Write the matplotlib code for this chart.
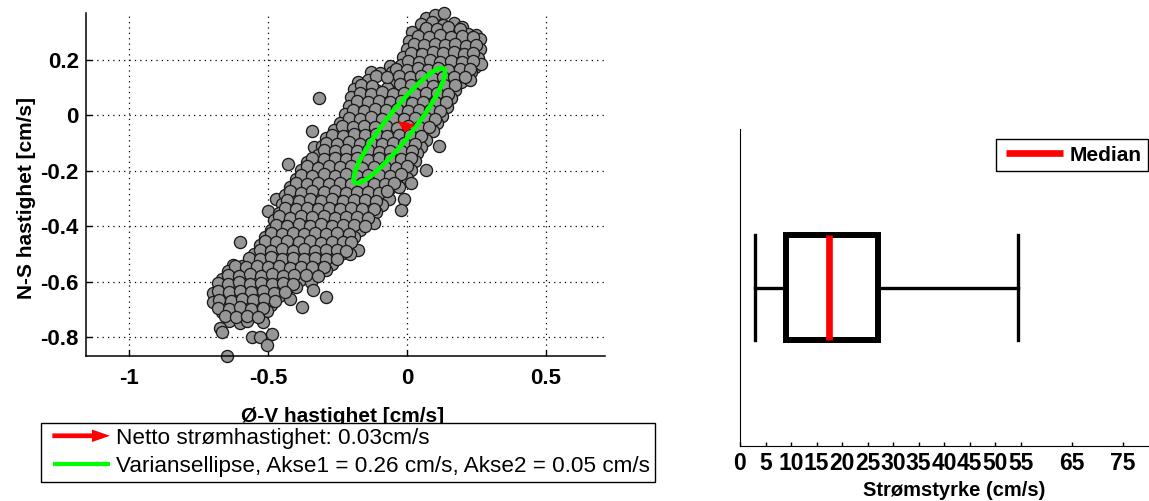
import matplotlib
matplotlib.use("Agg")
import matplotlib.pyplot as plt
from matplotlib.patches import Ellipse, FancyArrow
from matplotlib.lines import Line2D
from matplotlib.legend_handler import HandlerBase

plt.rcParams['font.family'] = 'Liberation Sans'
plt.rcParams['axes.unicode_minus'] = False

# East-west (u) and north-south (v) velocity samples [cm/s]
u_vel = [
    0.07, 0.10, 0.134,
    0.05, 0.09, 0.13, 0.17, 0.20,
    0.02, 0.058, 0.10, 0.138, 0.18, 0.22, 0.248,
    0.008, 0.045, 0.082, 0.12, 0.158, 0.198, 0.235, 0.265,
    0.0, 0.04, 0.075, 0.112, 0.15, 0.19, 0.226, 0.262,
    -0.012, 0.028, 0.065, 0.102, 0.14, 0.18, 0.22, 0.258,
    -0.06, -0.022, 0.018, 0.055, 0.092, 0.13, 0.17, 0.208, 0.245, 0.268,
    -0.13, -0.095, -0.052, -0.012, 0.028, 0.068, 0.108, 0.148, 0.19, 0.23,
    -0.176, -0.14, -0.045, -0.006, 0.034, 0.074, 0.114, 0.155, 0.195, 0.228,
    -0.19, -0.15, -0.11, -0.07, -0.03, 0.01, 0.05, 0.09, 0.13, 0.172,
    -0.318, -0.2, -0.16, -0.12, -0.08, -0.04, 0.0, 0.04, 0.08, 0.12, 0.16,
    -0.21, -0.17, -0.13, -0.09, -0.05, -0.01, 0.03, 0.07, 0.11, 0.145,
    -0.222, -0.182, -0.142, -0.102, -0.062, -0.022, 0.018, 0.058, 0.098, 0.125,
    -0.24, -0.2, -0.16, -0.12, -0.08, -0.04, 0.0, 0.04, 0.08, 0.11,
    -0.34, -0.262, -0.222, -0.182, -0.142, -0.102, -0.062, -0.022, 0.018, 0.058, 0.094,
    -0.29, -0.25, -0.21, -0.17, -0.13, -0.09, -0.05, -0.01, 0.03, 0.07,
    -0.336, -0.305, -0.268, -0.228, -0.188, -0.148, -0.108, -0.068, -0.028, 0.012, 0.05, 0.115,
    -0.32, -0.28, -0.24, -0.2, -0.16, -0.12, -0.08, -0.04, 0.0, 0.038,
    -0.427, -0.36, -0.32, -0.28, -0.24, -0.2, -0.16, -0.12, -0.08, -0.04, 0.0, 0.03,
    -0.38, -0.34, -0.3, -0.26, -0.22, -0.18, -0.14, -0.1, -0.06, -0.02, 0.015, 0.07,
    -0.4, -0.36, -0.32, -0.28, -0.24, -0.2, -0.16, -0.12, -0.08, -0.04, 0.0, 0.015,
    -0.42, -0.38, -0.34, -0.3, -0.26, -0.22, -0.18, -0.14, -0.1, -0.06, -0.03,
    -0.47, -0.44, -0.4, -0.36, -0.32, -0.28, -0.24, -0.2, -0.16, -0.12, -0.065, -0.01,
    -0.45, -0.41, -0.37, -0.33, -0.29, -0.25, -0.21, -0.17, -0.13, -0.09,
    -0.5, -0.02,
    -0.46, -0.42, -0.38, -0.34, -0.3, -0.26, -0.22, -0.18, -0.14, -0.11,
    -0.48, -0.44, -0.4, -0.36, -0.32, -0.28, -0.24, -0.2, -0.16, -0.12,
    -0.49, -0.45, -0.41, -0.37, -0.33, -0.29, -0.25, -0.21, -0.17,
    -0.51, -0.47, -0.43, -0.39, -0.35, -0.31, -0.27, -0.23, -0.19,
    -0.6,
    -0.53, -0.49, -0.45, -0.41, -0.37, -0.33, -0.29, -0.25, -0.21, -0.176,
    -0.55, -0.51, -0.47, -0.43, -0.39, -0.35, -0.31, -0.27, -0.23, -0.206,
    -0.625, -0.594, -0.55, -0.51, -0.47, -0.43, -0.39, -0.35, -0.31, -0.27,
    -0.645, -0.6, -0.56, -0.52, -0.48, -0.44, -0.4, -0.36, -0.32, -0.29,
    -0.665, -0.625, -0.585, -0.545, -0.505, -0.465, -0.425, -0.385, -0.345,
    -0.698, -0.67, -0.63, -0.59, -0.55, -0.51, -0.47, -0.43, -0.4, -0.337,
    -0.698, -0.66, -0.62, -0.58, -0.54, -0.5, -0.46, -0.42, -0.293,
    -0.65, -0.61, -0.57, -0.53, -0.49, -0.376,
    -0.665, -0.625, -0.585, -0.545, -0.505,
    -0.64, -0.6, -0.575, -0.517,
    -0.672, -0.665, -0.557, -0.528, -0.487, -0.505, -0.648,
    # samples lying between the rows above
    0.07, 0.11, 0.15, 0.19,
    0.04, 0.08, 0.12, 0.16, 0.2, 0.24,
    0.025, 0.063, 0.1, 0.138, 0.175, 0.212, 0.248,
    0.015, 0.055, 0.093, 0.13, 0.17, 0.205, 0.24,
    0.005, 0.045, 0.083, 0.12, 0.16, 0.2, 0.238,
    -0.04, 0.0, 0.04, 0.075, 0.112, 0.15, 0.19, 0.228,
    -0.11, -0.07, -0.03, 0.01, 0.05, 0.09, 0.13, 0.17, 0.21,
    -0.165, -0.125, -0.025, 0.015, 0.055, 0.095, 0.135, 0.175,
    -0.17, -0.13, -0.09, -0.05, -0.01, 0.03, 0.07, 0.11, 0.15,
    -0.18, -0.14, -0.1, -0.06, -0.02, 0.02, 0.06, 0.1, 0.14,
    -0.195, -0.155, -0.115, -0.075, -0.035, 0.005, 0.045, 0.085, 0.12,
    -0.21, -0.17, -0.13, -0.09, -0.05, -0.01, 0.03, 0.07, 0.1,
    -0.235, -0.195, -0.155, -0.115, -0.075, -0.035, 0.005, 0.045, 0.08,
    -0.27, -0.23, -0.19, -0.15, -0.11, -0.07, -0.03, 0.01, 0.05,
    -0.29, -0.25, -0.21, -0.17, -0.13, -0.09, -0.05, -0.01, 0.03,
    -0.3, -0.26, -0.22, -0.18, -0.14, -0.1, -0.06, -0.02, 0.02,
    -0.34, -0.3, -0.26, -0.22, -0.18, -0.14, -0.1, -0.06, -0.02, 0.015,
    -0.36, -0.32, -0.28, -0.24, -0.2, -0.16, -0.12, -0.08, -0.04, 0.0,
    -0.38, -0.34, -0.3, -0.26, -0.22, -0.18, -0.14, -0.1, -0.06, -0.02,
    -0.4, -0.36, -0.32, -0.28, -0.24, -0.2, -0.16, -0.12, -0.08, -0.045,
    -0.42, -0.38, -0.34, -0.3, -0.26, -0.22, -0.18, -0.14, -0.1, -0.07,
    -0.43, -0.39, -0.35, -0.31, -0.27, -0.23, -0.19, -0.15, -0.11,
    -0.44, -0.4, -0.36, -0.32, -0.28, -0.24, -0.2, -0.16, -0.12,
    -0.46, -0.42, -0.38, -0.34, -0.3, -0.26, -0.22, -0.18, -0.14,
    -0.47, -0.43, -0.39, -0.35, -0.31, -0.27, -0.23, -0.19, -0.15,
    -0.49, -0.45, -0.41, -0.37, -0.33, -0.29, -0.25, -0.21,
    -0.51, -0.47, -0.43, -0.39, -0.35, -0.31, -0.27, -0.23, -0.2,
    -0.53, -0.49, -0.45, -0.41, -0.37, -0.33, -0.29, -0.25, -0.22,
    -0.57, -0.53, -0.49, -0.45, -0.41, -0.37, -0.33, -0.29, -0.25,
    -0.62, -0.58, -0.54, -0.5, -0.46, -0.42, -0.38, -0.34, -0.3,
    -0.645, -0.605, -0.565, -0.525, -0.485, -0.445, -0.405, -0.365, -0.32,
    -0.68, -0.645, -0.605, -0.565, -0.525, -0.485, -0.445, -0.41,
    -0.68, -0.64, -0.6, -0.56, -0.52, -0.48, -0.44,
    -0.675, -0.635, -0.595, -0.555, -0.515, -0.475,
    -0.68, -0.64, -0.6, -0.56, -0.52,
    -0.655, -0.615, -0.575, -0.535,
]
v_vel = [
    0.35, 0.362, 0.37,
    0.328, 0.335, 0.325, 0.332, 0.318,
    0.302, 0.296, 0.305, 0.298, 0.301, 0.294, 0.289,
    0.268, 0.274, 0.265, 0.272, 0.266, 0.27, 0.262, 0.275,
    0.238, 0.242, 0.236, 0.245, 0.239, 0.235, 0.243, 0.24,
    0.21, 0.206, 0.214, 0.208, 0.212, 0.205, 0.211, 0.207,
    0.178, 0.183, 0.176, 0.181, 0.178, 0.184, 0.177, 0.18, 0.175, 0.185,
    0.158, 0.152, 0.156, 0.15, 0.155, 0.151, 0.157, 0.153, 0.149, 0.156,
    0.122, 0.128, 0.124, 0.12, 0.127, 0.121, 0.126, 0.123, 0.12, 0.128,
    0.094, 0.098, 0.092, 0.099, 0.093, 0.097, 0.091, 0.096, 0.094, 0.09,
    0.062, 0.066, 0.061, 0.067, 0.063, 0.068, 0.062, 0.065, 0.06, 0.066, 0.061,
    0.033, 0.038, 0.031, 0.036, 0.032, 0.037, 0.034, 0.03, 0.036, 0.032,
    0.004, 0.008, 0.002, 0.007, 0.0, 0.006, 0.003, 0.008, 0.001, -0.004,
    -0.027, -0.022, -0.028, -0.021, -0.026, -0.023, -0.029, -0.024, -0.02, -0.026,
    -0.057, -0.054, -0.058, -0.052, -0.056, -0.051, -0.057, -0.053, -0.059, -0.052, -0.056,
    -0.083, -0.088, -0.082, -0.087, -0.084, -0.089, -0.083, -0.086, -0.081, -0.088,
    -0.115, -0.112, -0.116, -0.11, -0.114, -0.111, -0.117, -0.112, -0.115, -0.11, -0.113, -0.11,
    -0.142, -0.138, -0.143, -0.137, -0.141, -0.136, -0.142, -0.139, -0.144, -0.137,
    -0.176, -0.168, -0.173, -0.167, -0.172, -0.166, -0.171, -0.168, -0.174, -0.167, -0.17, -0.165,
    -0.198, -0.203, -0.197, -0.202, -0.196, -0.201, -0.199, -0.204, -0.197, -0.202, -0.198, -0.196,
    -0.228, -0.232, -0.226, -0.231, -0.227, -0.233, -0.229, -0.234, -0.228, -0.232, -0.227, -0.242,
    -0.258, -0.263, -0.257, -0.262, -0.256, -0.261, -0.259, -0.264, -0.257, -0.262, -0.258,
    -0.3, -0.288, -0.293, -0.287, -0.292, -0.286, -0.291, -0.288, -0.294, -0.289, -0.3, -0.302,
    -0.318, -0.323, -0.317, -0.322, -0.316, -0.321, -0.319, -0.324, -0.317, -0.322,
    -0.345, -0.34,
    -0.352, -0.348, -0.353, -0.347, -0.351, -0.346, -0.352, -0.348, -0.354, -0.349,
    -0.378, -0.383, -0.377, -0.382, -0.376, -0.381, -0.379, -0.384, -0.377, -0.386,
    -0.412, -0.407, -0.413, -0.408, -0.411, -0.406, -0.412, -0.409, -0.414,
    -0.438, -0.443, -0.437, -0.442, -0.436, -0.441, -0.439, -0.444, -0.437,
    -0.457,
    -0.468, -0.473, -0.467, -0.472, -0.466, -0.471, -0.469, -0.474, -0.467, -0.486,
    -0.498, -0.503, -0.497, -0.502, -0.496, -0.501, -0.499, -0.504, -0.497, -0.5,
    -0.54, -0.543, -0.528, -0.533, -0.527, -0.532, -0.526, -0.531, -0.529, -0.534,
    -0.562, -0.557, -0.563, -0.558, -0.561, -0.556, -0.562, -0.559, -0.564, -0.557,
    -0.588, -0.593, -0.587, -0.592, -0.586, -0.591, -0.589, -0.594, -0.6,
    -0.641, -0.62, -0.618, -0.623, -0.617, -0.622, -0.616, -0.621, -0.619, -0.628,
    -0.673, -0.648, -0.653, -0.647, -0.652, -0.646, -0.651, -0.66, -0.655,
    -0.682, -0.677, -0.683, -0.678, -0.684, -0.69,
    -0.708, -0.713, -0.707, -0.712, -0.706,
    -0.742, -0.748, -0.74, -0.745,
    -0.767, -0.78, -0.8, -0.8, -0.786, -0.828, -0.867,
    # samples lying between the rows above
    0.316, 0.312, 0.317, 0.311,
    0.286, 0.282, 0.288, 0.283, 0.287, 0.281,
    0.256, 0.252, 0.258, 0.253, 0.257, 0.251, 0.255,
    0.226, 0.222, 0.228, 0.223, 0.227, 0.221, 0.225,
    0.196, 0.192, 0.198, 0.193, 0.197, 0.191, 0.195,
    0.168, 0.164, 0.17, 0.165, 0.169, 0.163, 0.167, 0.166,
    0.141, 0.137, 0.143, 0.138, 0.142, 0.136, 0.14, 0.139, 0.137,
    0.111, 0.107, 0.113, 0.108, 0.112, 0.106, 0.11, 0.109,
    0.081, 0.077, 0.083, 0.078, 0.082, 0.076, 0.08, 0.079, 0.077,
    0.051, 0.047, 0.053, 0.048, 0.052, 0.046, 0.05, 0.049, 0.047,
    0.021, 0.017, 0.023, 0.018, 0.022, 0.016, 0.02, 0.019, 0.017,
    -0.009, -0.013, -0.007, -0.012, -0.008, -0.014, -0.01, -0.011, -0.013,
    -0.039, -0.043, -0.037, -0.042, -0.038, -0.044, -0.04, -0.041, -0.043,
    -0.069, -0.073, -0.067, -0.072, -0.068, -0.074, -0.07, -0.071, -0.073,
    -0.099, -0.103, -0.097, -0.102, -0.098, -0.104, -0.1, -0.101, -0.103,
    -0.126, -0.13, -0.124, -0.129, -0.125, -0.131, -0.127, -0.128, -0.13,
    -0.154, -0.158, -0.152, -0.157, -0.153, -0.159, -0.155, -0.156, -0.158, -0.152,
    -0.184, -0.188, -0.182, -0.187, -0.183, -0.189, -0.185, -0.186, -0.188, -0.182,
    -0.214, -0.218, -0.212, -0.217, -0.213, -0.219, -0.215, -0.216, -0.218, -0.212,
    -0.244, -0.248, -0.242, -0.247, -0.243, -0.249, -0.245, -0.246, -0.248, -0.242,
    -0.274, -0.278, -0.272, -0.277, -0.273, -0.279, -0.275, -0.276, -0.278, -0.272,
    -0.304, -0.308, -0.302, -0.307, -0.303, -0.309, -0.305, -0.306, -0.308,
    -0.334, -0.338, -0.332, -0.337, -0.333, -0.339, -0.335, -0.336, -0.338,
    -0.364, -0.368, -0.362, -0.367, -0.363, -0.369, -0.365, -0.366, -0.368,
    -0.394, -0.398, -0.392, -0.397, -0.393, -0.399, -0.395, -0.396, -0.398,
    -0.424, -0.428, -0.422, -0.427, -0.423, -0.429, -0.425, -0.426,
    -0.454, -0.458, -0.452, -0.457, -0.453, -0.459, -0.455, -0.456, -0.458,
    -0.484, -0.488, -0.482, -0.487, -0.483, -0.489, -0.485, -0.486, -0.488,
    -0.514, -0.518, -0.512, -0.517, -0.513, -0.519, -0.515, -0.516, -0.518,
    -0.544, -0.548, -0.542, -0.547, -0.543, -0.549, -0.545, -0.546, -0.548,
    -0.574, -0.578, -0.572, -0.577, -0.573, -0.579, -0.575, -0.576, -0.578,
    -0.604, -0.608, -0.602, -0.607, -0.603, -0.609, -0.605, -0.606,
    -0.634, -0.638, -0.632, -0.637, -0.633, -0.639, -0.635,
    -0.664, -0.668, -0.662, -0.667, -0.663, -0.669,
    -0.694, -0.698, -0.692, -0.697, -0.693,
    -0.724, -0.728, -0.722, -0.727,
]
assert len(u_vel) == len(v_vel)

# Net current and variance ellipse
net_speed = 0.03
arrow_start = (-0.001, -0.028)
net_u, net_v = -0.005, -0.0296
ell_center = (-0.027, -0.037)
akse1, akse2 = 0.26, 0.05
ell_angle = 52

# Current strength distribution [cm/s]
whisk_lo, q1, median, q3, whisk_hi = 3.0, 9.0, 17.5, 27.0, 54.5
speed_ticks = [0, 5, 10, 15, 20, 25, 30, 35, 40, 45, 50, 55, 65, 75]

xticks_uv = [-1, -0.5, 0, 0.5]
yticks_uv = [-0.8, -0.6, -0.4, -0.2, 0, 0.2]


class OffsetHandle(HandlerBase):
    """Legend handle drawn as a line or arrow of fixed length, right-aligned."""

    def __init__(self, length, arrow=False):
        super().__init__()
        self.length = length
        self.arrow = arrow

    def create_artists(self, legend, orig_handle, xdescent, ydescent,
                       width, height, fontsize, trans):
        x1 = width - xdescent
        x0 = x1 - self.length
        y = height / 2 - ydescent
        if self.arrow:
            art = FancyArrow(x0, y, self.length, 0, width=3.4, head_width=9,
                             head_length=13, length_includes_head=True,
                             color=orig_handle.get_color(), lw=0,
                             transform=trans)
        else:
            art = Line2D([x0, x1], [y, y], color=orig_handle.get_color(),
                         lw=orig_handle.get_linewidth(),
                         solid_capstyle='butt', transform=trans)
        return [art]


W, H = 1149, 501
fig = plt.figure(figsize=(W / 100, H / 100), dpi=100)

# --- velocity scatter -------------------------------------------------------
ax = fig.add_axes([85.7 / W, 1 - 356 / H, 519.3 / W, 343.3 / H])
ax.scatter(u_vel, v_vel, s=76, c='#969696', edgecolors='#1a1a1a',
           linewidths=0.95, zorder=2, clip_on=False)
ax.add_patch(Ellipse(ell_center, 2 * akse1, 2 * akse2, angle=ell_angle,
                     fill=False, edgecolor='#00ff00', lw=3.4, zorder=3))
ax.add_patch(FancyArrow(arrow_start[0], arrow_start[1], net_u, net_v,
                        width=0.014, head_width=0.055, head_length=0.03,
                        overhang=0.15, length_includes_head=True,
                        facecolor='red', edgecolor='red', lw=1.2, zorder=4))

ax.set_xlim(-1.157, 0.714)
ax.set_ylim(-0.867, 0.370)
ax.set_xticks(xticks_uv)
ax.set_xticklabels([f'{t:g}' for t in xticks_uv])
ax.set_yticks(yticks_uv)
ax.set_yticklabels([f'{t:g}' for t in yticks_uv])
ax.tick_params(direction='in', length=4, width=1, pad=5, labelsize=16)
ax.tick_params(axis='x', pad=8.5)
for lab in ax.get_xticklabels() + ax.get_yticklabels():
    lab.set_fontweight('bold')
ax.spines['top'].set_visible(False)
ax.spines['right'].set_visible(False)
for sp in ('left', 'bottom'):
    ax.spines[sp].set_linewidth(1.1)
ax.grid(True, color='black', linestyle=(0, (1, 3.3)), lw=0.9)
ax.set_axisbelow(True)
ax.set_xlabel('Ø-V hastighet [cm/s]', fontsize=15, fontweight='bold')
ax.set_ylabel('N-S hastighet [cm/s]', fontsize=15, fontweight='bold')
ax.xaxis.set_label_coords(0.494, -0.149)
ax.yaxis.set_label_coords(-0.095, 0.46)

h_arrow = Line2D([], [], color='red')
h_ell = Line2D([], [], color='#00ff00', lw=3)
leg = fig.legend(
    handles=[h_arrow, h_ell],
    labels=[f'Netto strømhastighet: {net_speed:.2f}cm/s',
            f'Variansellipse, Akse1 = {akse1:.2f} cm/s, '
            f'Akse2 = {akse2:.2f} cm/s'],
    handler_map={h_arrow: OffsetHandle(41.5, arrow=True),
                 h_ell: OffsetHandle(41.0)},
    loc='upper left', bbox_to_anchor=(40.7 / W, 1 - 422.7 / H),
    bbox_transform=fig.transFigure, borderaxespad=0, borderpad=0.22,
    handlelength=2.86, handletextpad=0.26, labelspacing=0.33, fontsize=16.2,
    fancybox=False, edgecolor='black', framealpha=1)
leg.get_frame().set_linewidth(1.0)

# --- current strength box plot ----------------------------------------------
ax2 = fig.add_axes([740 / W, 1 - 446 / H, 408 / W, 316.7 / H])
stats = [dict(whislo=whisk_lo, q1=q1, med=median, q3=q3, whishi=whisk_hi,
              fliers=[])]
ax2.bxp(stats, positions=[1], widths=0.33, capwidths=0.33,
        orientation='horizontal', showfliers=False, manage_ticks=False,
        boxprops=dict(color='black', lw=4.3, solid_joinstyle='miter'),
        whiskerprops=dict(color='black', lw=2.4),
        capprops=dict(color='black', lw=2.4),
        medianprops=dict(color='red', lw=4.8, solid_capstyle='butt'))
ax2.set_xlim(0, 80)
ax2.set_ylim(0.5, 1.5)
ax2.set_yticks([])
ax2.set_xticks(speed_ticks)
ax2.set_xticklabels([str(t) for t in speed_ticks])
ax2.tick_params(axis='x', direction='in', length=3, width=1, pad=4,
                labelsize=16.5)
for lab in ax2.get_xticklabels():
    lab.set_fontweight('bold')
ax2.spines['top'].set_visible(False)
ax2.spines['right'].set_visible(False)
ax2.set_xlabel('Strømstyrke (cm/s)', fontsize=14.5, fontweight='bold')
ax2.xaxis.set_label_coords(0.525, -0.11)

h_med = Line2D([], [], color='red', lw=4.8)
leg2 = ax2.legend(handles=[h_med], labels=['Median'],
                  handler_map={h_med: OffsetHandle(41.0)},
                  loc='upper right', bbox_to_anchor=(1147.7 / W, 1 - 139.3 / H),
                  bbox_transform=fig.transFigure, borderaxespad=0,
                  borderpad=0.3, handlelength=2.95, handletextpad=0.29,
                  prop=dict(size=15, weight='bold'),
                  fancybox=False, edgecolor='black', framealpha=1)
leg2.get_frame().set_linewidth(1.0)

fig.savefig('out.png', dpi=100)
